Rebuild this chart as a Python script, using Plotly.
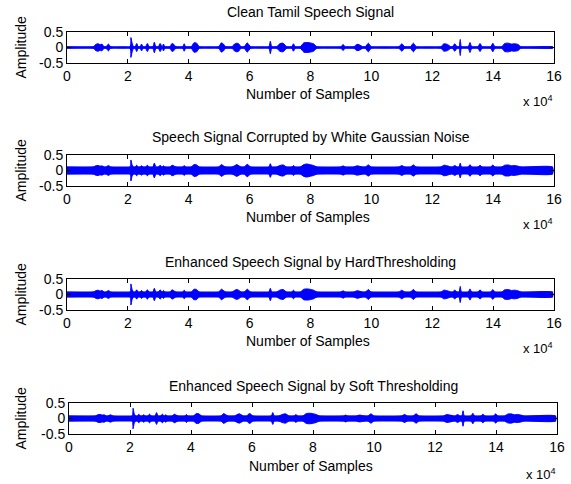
import plotly.graph_objects as go

# ---- data (sample index in units of 1e4, envelope amplitude) ----
env_x = [0.00,
         0.86, 0.94, 1.02, 1.09, 1.15, 1.22,
         1.28, 1.36, 1.44,
         2.07, 2.10, 2.14, 2.19,
         2.24, 2.29, 2.34,
         2.40, 2.45, 2.50,
         2.58, 2.64, 2.70,
         2.82, 2.87, 2.92,
         3.00, 3.06, 3.12,
         3.13, 3.17, 3.22,
         3.38, 3.45, 3.51, 3.58,
         3.80, 3.85, 3.90,
         4.08, 4.17, 4.26, 4.35,
         4.98, 5.07, 5.14, 5.22,
         5.42, 5.50, 5.58, 5.65, 5.72,
         5.82, 5.92, 6.04,
         6.63, 6.68, 6.73,
         6.88, 6.99, 7.10, 7.22,
         7.38, 7.44, 7.50,
         7.66, 7.78, 7.88, 7.98, 8.10, 8.22,
         9.00, 9.07, 9.14,
         9.42, 9.52, 9.60, 9.72,
         9.80, 9.90, 10.00,
         10.90, 11.00, 11.10,
         11.28, 11.38, 11.48,
         12.28, 12.38, 12.50, 12.62,
         12.66, 12.74, 12.82,
         12.88, 12.92, 12.96,
         13.18, 13.24, 13.30,
         13.50, 13.57, 13.64,
         13.92, 13.99, 14.06,
         14.28, 14.38, 14.50, 14.60, 14.70, 14.82, 14.92,
         15.95]

# baseline (residual) amplitude of each signal
clean_base = 0.02
noisy_base = 0.11
hard_base = 0.075
soft_base = 0.08

C, N, Hb, S = clean_base, noisy_base, hard_base, soft_base

clean_amp = [C,
             C, 0.10, 0.12, 0.09, 0.11, C,
             C, 0.11, C,
             C, 0.32, 0.14, C,
             C, 0.13, C,
             C, 0.11, C,
             C, 0.13, C,
             C, 0.17, C,
             C, 0.13, C,
             C, 0.11, C,
             C, 0.13, 0.10, C,
             C, 0.12, C,
             C, 0.15, 0.14, C,
             C, 0.15, 0.11, C,
             C, 0.11, 0.14, 0.11, C,
             C, 0.15, C,
             C, 0.20, C,
             C, 0.12, 0.14, C,
             C, 0.12, C,
             C, 0.15, 0.16, 0.15, 0.12, C,
             C, 0.10, C,
             C, 0.10, 0.09, C,
             C, 0.14, C,
             C, 0.12, C,
             C, 0.14, C,
             C, 0.12, 0.10, C,
             C, 0.12, C,
             C, 0.26, C,
             C, 0.16, C,
             C, 0.13, C,
             C, 0.14, C,
             C, 0.13, 0.14, 0.11, 0.12, 0.10, C,
             C]

noisy_amp = [N,
             N, 0.15, 0.16, 0.14, 0.15, N,
             N, 0.16, N,
             N, 0.34, 0.18, N,
             N, 0.17, N,
             N, 0.15, N,
             N, 0.17, N,
             N, 0.24, N,
             N, 0.17, N,
             N, 0.15, N,
             N, 0.17, 0.15, N,
             N, 0.16, N,
             N, 0.19, 0.18, N,
             N, 0.19, 0.15, N,
             N, 0.15, 0.19, 0.15, N,
             N, 0.20, N,
             N, 0.22, N,
             N, 0.16, 0.18, N,
             N, 0.16, N,
             N, 0.19, 0.21, 0.19, 0.16, N,
             N, 0.15, N,
             N, 0.15, 0.14, N,
             N, 0.18, N,
             N, 0.16, N,
             N, 0.18, N,
             N, 0.17, 0.15, N,
             N, 0.16, N,
             N, 0.24, N,
             N, 0.19, N,
             N, 0.17, N,
             N, 0.18, N,
             N, 0.17, 0.18, 0.15, 0.16, 0.14, N,
             N]

hard_amp = [Hb,
            Hb, 0.12, 0.14, 0.11, 0.13, Hb,
            Hb, 0.13, Hb,
            Hb, 0.34, 0.16, Hb,
            Hb, 0.15, Hb,
            Hb, 0.13, Hb,
            Hb, 0.15, Hb,
            Hb, 0.20, Hb,
            Hb, 0.15, Hb,
            Hb, 0.13, Hb,
            Hb, 0.15, 0.12, Hb,
            Hb, 0.14, Hb,
            Hb, 0.17, 0.16, Hb,
            Hb, 0.17, 0.13, Hb,
            Hb, 0.13, 0.16, 0.13, Hb,
            Hb, 0.17, Hb,
            Hb, 0.20, Hb,
            Hb, 0.14, 0.16, Hb,
            Hb, 0.14, Hb,
            Hb, 0.17, 0.18, 0.17, 0.14, Hb,
            Hb, 0.12, Hb,
            Hb, 0.12, 0.11, Hb,
            Hb, 0.16, Hb,
            Hb, 0.14, Hb,
            Hb, 0.16, Hb,
            Hb, 0.14, 0.12, Hb,
            Hb, 0.14, Hb,
            Hb, 0.26, Hb,
            Hb, 0.18, Hb,
            Hb, 0.15, Hb,
            Hb, 0.16, Hb,
            Hb, 0.15, 0.16, 0.13, 0.14, 0.12, Hb,
            Hb]

soft_amp = [S,
            S, 0.12, 0.13, 0.11, 0.12, S,
            S, 0.12, S,
            S, 0.33, 0.15, S,
            S, 0.14, S,
            S, 0.12, S,
            S, 0.14, S,
            S, 0.19, S,
            S, 0.14, S,
            S, 0.12, S,
            S, 0.14, 0.11, S,
            S, 0.13, S,
            S, 0.16, 0.15, S,
            S, 0.16, 0.12, S,
            S, 0.12, 0.15, 0.12, S,
            S, 0.16, S,
            S, 0.19, S,
            S, 0.13, 0.15, S,
            S, 0.13, S,
            S, 0.16, 0.17, 0.16, 0.13, S,
            S, 0.11, S,
            S, 0.11, 0.10, S,
            S, 0.15, S,
            S, 0.13, S,
            S, 0.15, S,
            S, 0.13, 0.11, S,
            S, 0.13, S,
            S, 0.25, S,
            S, 0.17, S,
            S, 0.14, S,
            S, 0.15, S,
            S, 0.14, 0.15, 0.12, 0.13, 0.11, S,
            S]

titles = ["Clean Tamil Speech Signal",
          "Speech Signal Corrupted by White Gaussian Noise",
          "Enhanced Speech Signal by HardThresholding",
          "Enhanced Speech Signal by Soft Thresholding"]
series = [clean_amp, noisy_amp, hard_amp, soft_amp]
bases = [clean_base, noisy_base, hard_base, soft_base]

x_tickvals = [0, 20000, 40000, 60000, 80000, 100000, 120000, 140000, 160000]
x_ticktext = ["0", "2", "4", "6", "8", "10", "12", "14", "16"]
y_tickvals = [-0.5, 0, 0.5]
y_ticktext = ["-0.5", "0", "0.5"]

# ---- layout geometry (pixels) ----
W, H = 571, 484
boxes = [(67, 554, 32, 63), (67, 554, 155, 186), (67, 554, 279, 310), (69, 557, 403, 434)]
title_y = [12, 137, 262, 386]
xlab_y = [94, 217, 341, 466]
exp_y = [101, 224, 348, 474]

FONT = "Liberation Sans, Arial, sans-serif"
BLUE = "#0000ff"
FS = 14

fig = go.Figure()
layout = dict(width=W, height=H, margin=dict(l=0, r=0, t=0, b=0),
              paper_bgcolor="white", plot_bgcolor="white", showlegend=False,
              font=dict(family=FONT, size=FS, color="black"))
annotations = []


def py(p):
    return (H - p) / H


for i, (amp, title) in enumerate(zip(series, titles)):
    n = i + 1
    x0, x1, y0, y1 = boxes[i]
    xs = [v * 1e4 for v in env_x]
    # residual band (baseline) as a band drawn from the baseline amplitude
    fig.add_trace(go.Scatter(x=[xs[0], xs[-1], xs[-1], xs[0]],
                             y=[bases[i], bases[i], -bases[i], -bases[i]],
                             mode="lines", fill="toself", fillcolor=BLUE,
                             line=dict(color=BLUE, width=1.2),
                             xaxis=f"x{n}", yaxis=f"y{n}", hoverinfo="skip"))
    px = xs + xs[::-1]
    pyv = amp + [-a for a in amp[::-1]]
    fig.add_trace(go.Scatter(x=px, y=pyv, mode="lines", fill="toself",
                             fillcolor=BLUE,
                             line=dict(color=BLUE, width=1, shape="spline", smoothing=0.6),
                             xaxis=f"x{n}", yaxis=f"y{n}", hoverinfo="skip"))
    xa = dict(domain=[x0 / W, x1 / W], range=[0, 160000], tickvals=x_tickvals,
              ticktext=x_ticktext, ticks="inside", ticklen=4, tickcolor="black",
              showline=True, linecolor="black", linewidth=1, mirror="ticks",
              showgrid=False, zeroline=False, anchor=f"y{n}", automargin=False,
              tickfont=dict(size=FS, family=FONT))
    ya = dict(domain=[py(y1), py(y0)], range=[-0.5, 0.5], tickvals=y_tickvals,
              ticktext=y_ticktext, ticks="inside", ticklen=4, tickcolor="black",
              showline=True, linecolor="black", linewidth=1, mirror="ticks",
              showgrid=False, zeroline=False, anchor=f"x{n}", automargin=False,
              tickfont=dict(size=FS, family=FONT))
    layout["xaxis" if n == 1 else f"xaxis{n}"] = xa
    layout["yaxis" if n == 1 else f"yaxis{n}"] = ya
    cx = (x0 + x1) / 2 / W
    annotations.append(dict(text=title, x=cx, y=py(title_y[i]), xref="paper", yref="paper",
                            showarrow=False, xanchor="center", yanchor="middle",
                            font=dict(size=FS, family=FONT)))
    annotations.append(dict(text="Number of Samples", x=(x0 + x1 - 5) / 2 / W, y=py(xlab_y[i]),
                            xref="paper", yref="paper", showarrow=False,
                            xanchor="center", yanchor="middle", font=dict(size=FS, family=FONT)))
    annotations.append(dict(text="x 10<sup>4</sup>", x=(x1 - 33) / W, y=py(exp_y[i]),
                            xref="paper", yref="paper", showarrow=False,
                            xanchor="left", yanchor="middle", font=dict(size=13, family=FONT)))
    annotations.append(dict(text="Amplitude", x=20 / W, y=py((y0 + y1) / 2),
                            xref="paper", yref="paper", showarrow=False, textangle=-90,
                            xanchor="center", yanchor="middle", font=dict(size=FS, family=FONT)))

layout["annotations"] = annotations
fig.update_layout(**layout)
fig.write_html("out.html", config={"displayModeBar": False},
               post_script="document.body.style.margin='0px';document.body.style.overflow='hidden';")
